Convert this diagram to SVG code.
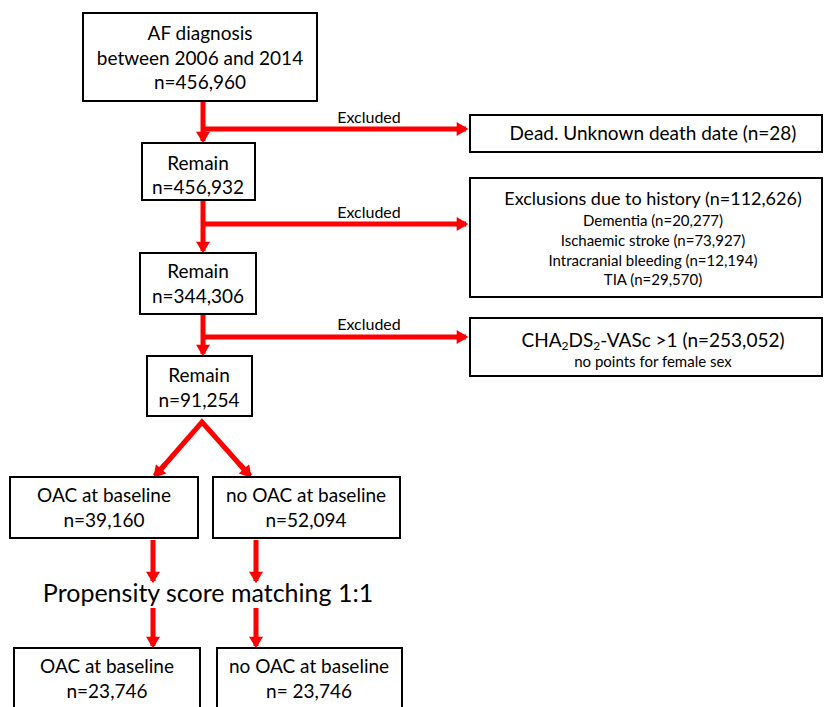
<svg xmlns="http://www.w3.org/2000/svg" width="828" height="707" viewBox="0 0 828 707">
<style>
.box{fill:#fff;stroke:#000;stroke-width:2}
.t{font-family:Lato,"Open Sans","Liberation Sans",sans-serif;fill:#000;text-anchor:middle}
.l{font-size:19px}
.s{font-size:15px}
.e{font-size:16px}
.red{stroke:#ff0000;stroke-width:5;fill:none}
</style>
<defs>
<marker id="ah" markerUnits="userSpaceOnUse" markerWidth="14" markerHeight="14" viewBox="0 0 10 12" refX="8" refY="6" orient="auto">
<path d="M0,0 L10,6 L0,12 Z" fill="#ff0000"/>
</marker>
</defs>
<rect width="828" height="707" fill="#fff"/>
<g id="connectors">
<line class="red" x1="203" y1="102" x2="203" y2="141" marker-end="url(#ah)"/>
<line class="red" x1="203" y1="129" x2="466" y2="129" marker-end="url(#ah)"/>
<line class="red" x1="203" y1="201" x2="203" y2="251" marker-end="url(#ah)"/>
<line class="red" x1="203" y1="224" x2="466" y2="224" marker-end="url(#ah)"/>
<line class="red" x1="203" y1="315" x2="203" y2="354" marker-end="url(#ah)"/>
<line class="red" x1="203" y1="337" x2="466" y2="337" marker-end="url(#ah)"/>
<polyline class="red" points="155,476 202,422 250,476"/>
<line class="red" x1="165" y1="464.5" x2="155" y2="476" marker-end="url(#ah)"/>
<line class="red" x1="240" y1="464.5" x2="250" y2="476" marker-end="url(#ah)"/>
<line class="red" x1="153" y1="540" x2="153" y2="581" marker-end="url(#ah)"/>
<line class="red" x1="256" y1="540" x2="256" y2="581" marker-end="url(#ah)"/>
<line class="red" x1="153" y1="608" x2="153" y2="646" marker-end="url(#ah)"/>
<line class="red" x1="256" y1="608" x2="256" y2="646" marker-end="url(#ah)"/>
<text class="t e" x="369" y="123">Excluded</text>
<text class="t e" x="369" y="218">Excluded</text>
<text class="t e" x="369" y="330">Excluded</text>
</g>
<g id="n_af">
<rect class="box" x="83" y="13" width="234" height="88"/>
<text class="t l" x="200" y="40">AF diagnosis</text>
<text class="t l" x="200" y="65">between 2006 and 2014</text>
<text class="t l" x="200" y="89">n=456,960</text>
</g>
<g id="n_remain1">
<rect class="box" x="142" y="143" width="113" height="57"/>
<text class="t l" x="198" y="170">Remain</text>
<text class="t l" x="198" y="194">n=456,932</text>
</g>
<g id="n_dead">
<rect class="box" x="470" y="115" width="352" height="37"/>
<text class="t l" x="653" y="140">Dead. Unknown death date (n=28)</text>
</g>
<g id="n_history">
<rect class="box" x="470" y="178" width="352" height="119"/>
<text class="t" font-size="18" x="653" y="205">Exclusions due to history (n=112,626)</text>
<text class="t s" x="653" y="226">Dementia (n=20,277)</text>
<text class="t s" x="653" y="246">Ischaemic stroke (n=73,927)</text>
<text class="t s" x="653" y="266">Intracranial bleeding (n=12,194)</text>
<text class="t s" x="653" y="285">TIA (n=29,570)</text>
</g>
<g id="n_remain2">
<rect class="box" x="140" y="253" width="116" height="61"/>
<text class="t l" x="198" y="278">Remain</text>
<text class="t l" x="198" y="303">n=344,306</text>
</g>
<g id="n_cha">
<rect class="box" x="470" y="318" width="352" height="58"/>
<text class="t l" x="653" y="347">CHA<tspan font-size="12" dy="3">2</tspan><tspan dy="-3">DS</tspan><tspan font-size="12" dy="3">2</tspan><tspan dy="-3">-VASc &gt;1 (n=253,052)</tspan></text>
<text class="t s" x="653" y="367">no points for female sex</text>
</g>
<g id="n_remain3">
<rect class="box" x="147" y="356" width="105" height="60"/>
<text class="t l" x="199" y="382">Remain</text>
<text class="t l" x="199" y="407">n=91,254</text>
</g>
<g id="n_oac1">
<rect class="box" x="10" y="477" width="188" height="61"/>
<text class="t l" x="104" y="502">OAC at baseline</text>
<text class="t l" x="104" y="527">n=39,160</text>
</g>
<g id="n_nooac1">
<rect class="box" x="213" y="477" width="187" height="61"/>
<text class="t l" x="306" y="502">no OAC at baseline</text>
<text class="t l" x="306" y="527">n=52,094</text>
</g>
<g id="n_psm">
<text class="t" font-size="25" x="208" y="602">Propensity score matching 1:1</text>
</g>
<g id="n_oac2">
<rect class="box" x="14" y="648" width="186" height="70"/>
<text class="t l" x="107" y="673">OAC at baseline</text>
<text class="t l" x="107" y="698">n=23,746</text>
</g>
<g id="n_nooac2">
<rect class="box" x="217" y="648" width="185" height="70"/>
<text class="t l" x="309" y="673">no OAC at baseline</text>
<text class="t l" x="309" y="698">n= 23,746</text>
</g>
</svg>
